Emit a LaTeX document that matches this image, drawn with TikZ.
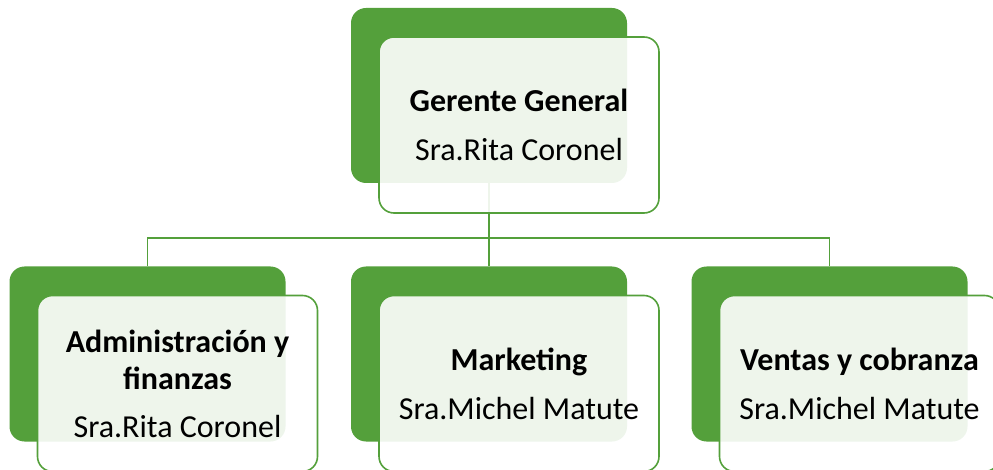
\documentclass[tikz,border=0pt]{standalone}
\usepackage{fontspec}
\setmainfont{Carlito}
\usepackage{tikz}
\usetikzlibrary{calc,positioning}

\definecolor{verde}{RGB}{84,160,59}

\tikzset{
  fondo/.style={fill=verde, rounded corners=15pt, minimum width=276pt, minimum height=175pt, inner sep=0pt},
  tarjeta/.style={draw=verde, line width=1.6pt, fill=white, fill opacity=0.9, text opacity=1,
    rounded corners=15pt, minimum width=280pt, minimum height=176pt, inner sep=0pt,
    align=center, font=\fontsize{32}{37}\selectfont},
  linea/.style={draw=verde, line width=1.8pt}
}

\begin{document}
\begin{tikzpicture}[x=1pt,y=-1pt]
              \useasboundingbox (0,0) rectangle (993,470);
              \node[fondo] (gerente) at (489,95.5) {};
              \node[fondo] (admin) at (147.5,354) {};
              \node[fondo] (marketing) at (489,354) {};
              \node[fondo] (ventas) at (829.5,354) {};
              \coordinate (barra) at ($(gerente.south)+(0,55)$);
              \draw[linea] (gerente.south) -- (barra);
              \draw[linea] (admin.north) |- (barra) -| (ventas.north);
              \draw[linea] (marketing.north) -- (marketing.north |- barra);
              \node[tarjeta] (gerenteTxt) at ([shift={(30,29.5)}]gerente.center)
                {\textbf{Gerente General}\\[12pt] Sra.Rita Coronel};
              \node[tarjeta] (adminTxt) at ([shift={(30,29.5)}]admin.center)
                {\textbf{Administración y}\\ \textbf{finanzas}\\[11pt] Sra.Rita Coronel};
              \node[tarjeta] (marketingTxt) at ([shift={(30,29.5)}]marketing.center)
                {\textbf{Marketing}\\[12pt] Sra.Michel Matute};
              \node[tarjeta] (ventasTxt) at ([shift={(30,29.5)}]ventas.center)
                {\textbf{Ventas y cobranza}\\[12pt] Sra.Michel Matute};
            \end{tikzpicture}
\end{document}
